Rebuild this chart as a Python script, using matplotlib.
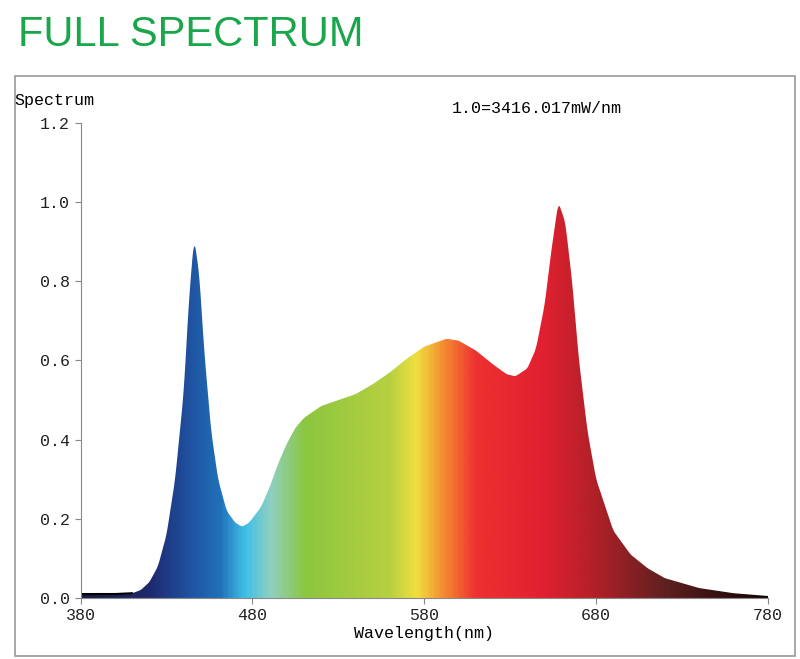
import numpy as np
import matplotlib.pyplot as plt
from matplotlib.colors import LinearSegmentedColormap
from matplotlib.patches import Rectangle

wavelength = [380, 400, 410, 415, 420, 425, 430, 435, 440, 443, 446, 449, 452, 456, 460, 465,
              470, 474, 478, 485, 490, 495, 500, 505, 510, 520, 530, 540, 550, 560, 570, 580,
              593, 600, 610, 620, 628, 633, 640, 645, 650, 654, 658, 662, 666, 670, 675, 680,
              690, 700, 710, 720, 740, 760, 780]
spectrum = [0.01, 0.01, 0.012, 0.02, 0.04, 0.08, 0.16, 0.30, 0.52, 0.75, 0.91, 0.82, 0.62, 0.42,
            0.30, 0.22, 0.19, 0.18, 0.19, 0.23, 0.28, 0.34, 0.39, 0.43, 0.455, 0.485, 0.50,
            0.515, 0.54, 0.57, 0.605, 0.635, 0.655, 0.65, 0.625, 0.59, 0.565, 0.56, 0.58, 0.63,
            0.74, 0.88, 1.0, 0.95, 0.80, 0.60, 0.42, 0.30, 0.17, 0.11, 0.075, 0.05, 0.025,
            0.012, 0.005]

grad_wl = [380, 420, 440, 460, 475, 490, 510, 560, 575, 590, 610, 650, 680, 720, 780]
grad_col = ['#141a40', '#1e2a70', '#1f4e9c', '#2070b8', '#40c0e8', '#90d0c0', '#8cc63f',
            '#b8d040', '#f0e040', '#f59030', '#ee3030', '#e02030', '#b02028', '#602020', '#100404']

# smooth the outline a little with a fine grid
fine_wl = np.linspace(380, 780, 1601)
fine_sp = np.interp(fine_wl, wavelength, spectrum)
kernel = np.ones(9) / 9
fine_sp = np.convolve(np.pad(fine_sp, 4, mode='edge'), kernel, mode='valid')

fig = plt.figure(figsize=(8, 6.59), dpi=100)
fig.text(0.022, 0.947, "FULL SPECTRUM", color='#1aa64a', fontsize=30,
         family='Liberation Sans', va='center')
fig.patches.append(Rectangle((0.019, 0.005), 0.975, 0.88, transform=fig.transFigure,
                             fill=False, edgecolor='#999999', lw=1.2))

ax = fig.add_axes([0.1008, 0.0926, 0.8592, 0.7208])
pos = [(w - 380) / 400 for w in grad_wl]
cmap = LinearSegmentedColormap.from_list('spec', list(zip(pos, grad_col)))
img = ax.imshow(np.linspace(0, 1, 400).reshape(1, -1), cmap=cmap, aspect='auto',
                extent=[380, 780, 0, 1.2], interpolation='bilinear')
poly = ax.fill_between(fine_wl, fine_sp, 0, color='none')
img.set_clip_path(poly.get_paths()[0], transform=ax.transData)
ax.plot(fine_wl[:120], fine_sp[:120], color='black', lw=1.5)

ax.set_xlim(380, 780)
ax.set_ylim(0, 1.2)
ax.set_xticks([380, 480, 580, 680, 780])
ax.set_yticks([0.0, 0.2, 0.4, 0.6, 0.8, 1.0, 1.2])
ax.set_yticklabels([f"{v:.1f}" for v in ax.get_yticks()])
for s in ['top', 'right']:
    ax.spines[s].set_visible(False)
for s in ['left', 'bottom']:
    ax.spines[s].set_color('#888888')
ax.tick_params(colors='#888888', labelcolor='#222222', length=4, labelsize=12)
for lab in ax.get_xticklabels() + ax.get_yticklabels():
    lab.set_family('Liberation Mono')
ax.set_xlabel("Wavelength(nm)", family='Liberation Mono', fontsize=12, labelpad=2)
fig.text(0.018, 0.848, "Spectrum", family='Liberation Mono', fontsize=12, va='center')
fig.text(0.565, 0.836, "1.0=3416.017mW/nm", family='Liberation Mono', fontsize=12, va='center')

fig.savefig("out.png", dpi=100)
